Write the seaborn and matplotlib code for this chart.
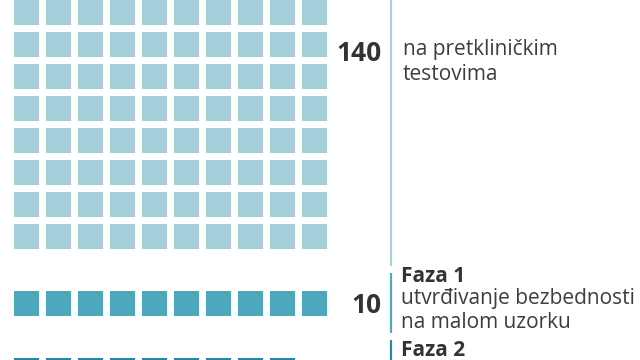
import numpy as np
import pandas as pd
import matplotlib.pyplot as plt
import seaborn as sns

sns.set_theme(style="white")
plt.rcParams["font.family"] = ["Open Sans", "DejaVu Sans"]

# ── Data ──────────────────────────────────────────────────
counts     = [140, 10, 9]
phases     = ["", "Faza 1", "Faza 2"]
numbers    = ["140", "10", ""]
notes      = [["na pretkliničkim", "testovima"],
              ["utvrđivanje bezbednosti", "na malom uzorku"],
              []]
sq_colors  = ["#a5cedb", "#4da8bd", "#2a87a3"]
line_colors = ["#a5d0dc", "#4eaac0", "#2589a8"]

# ── Layout (pixel units) ──────────────────────────────────
NCOL  = 10
PITCH = 32
SIZE  = 25
X0    = 14
Y0    = -192    # top of first group (cropped above the frame)
GAP   = 35

rows = []
tops = []
y = Y0
for g, n in enumerate(counts):
    tops.append(y)
    for i in range(n):
        rows.append({"group": g, "x": X0 + (i % NCOL) * PITCH,
                     "y": y + (i // NCOL) * PITCH})
    nrows = int(np.ceil(n / NCOL))
    y = y + nrows * PITCH + GAP
df = pd.DataFrame(rows)

fig = plt.figure(figsize=(6.4, 3.6), dpi=100)
ax = fig.add_axes([0, 0, 1, 1])
ax.set_xlim(0, 640)
ax.set_ylim(360, 0)
ax.axis("off")

for g, sub in df.groupby("group"):
    ax.bar(sub["x"], SIZE, width=SIZE, bottom=sub["y"], align="edge",
           color=sq_colors[g], edgecolor="none")

# vertical guide lines
LX = 390.5
for g, n in enumerate(counts):
    top = tops[g]
    nrows = int(np.ceil(n / NCOL))
    bottom = top + (nrows - 1) * PITCH + SIZE
    y1 = top - 18 if g > 0 else -300
    y2 = bottom + 17 if g < len(counts) - 1 else 400
    ax.plot([LX, LX], [y1, y2], color=line_colors[g], lw=1.6,
            solid_capstyle="butt")

BIG = dict(ha="right", va="baseline", fontsize=19, fontweight="bold",
           color="#333333")
HEAD = dict(ha="left", va="baseline", fontsize=15, fontweight="bold",
            color="#333333")
BODY = dict(ha="left", va="baseline", fontsize=15, color="#3d3d3d")

# top group
ax.text(382, 61, numbers[0], **BIG)
for k, line in enumerate(notes[0]):
    ax.text(403, 55 + 24.5 * k, line, **BODY)

# Faza 1
ax.text(382, 313, numbers[1], **BIG)
ax.text(401, 282, phases[1], **HEAD)
for k, line in enumerate(notes[1]):
    ax.text(401, 304 + 24 * k, line, **BODY)

# Faza 2
ax.text(401, 356, phases[2], **HEAD)

fig.savefig("out.png", dpi=100, facecolor="white")
